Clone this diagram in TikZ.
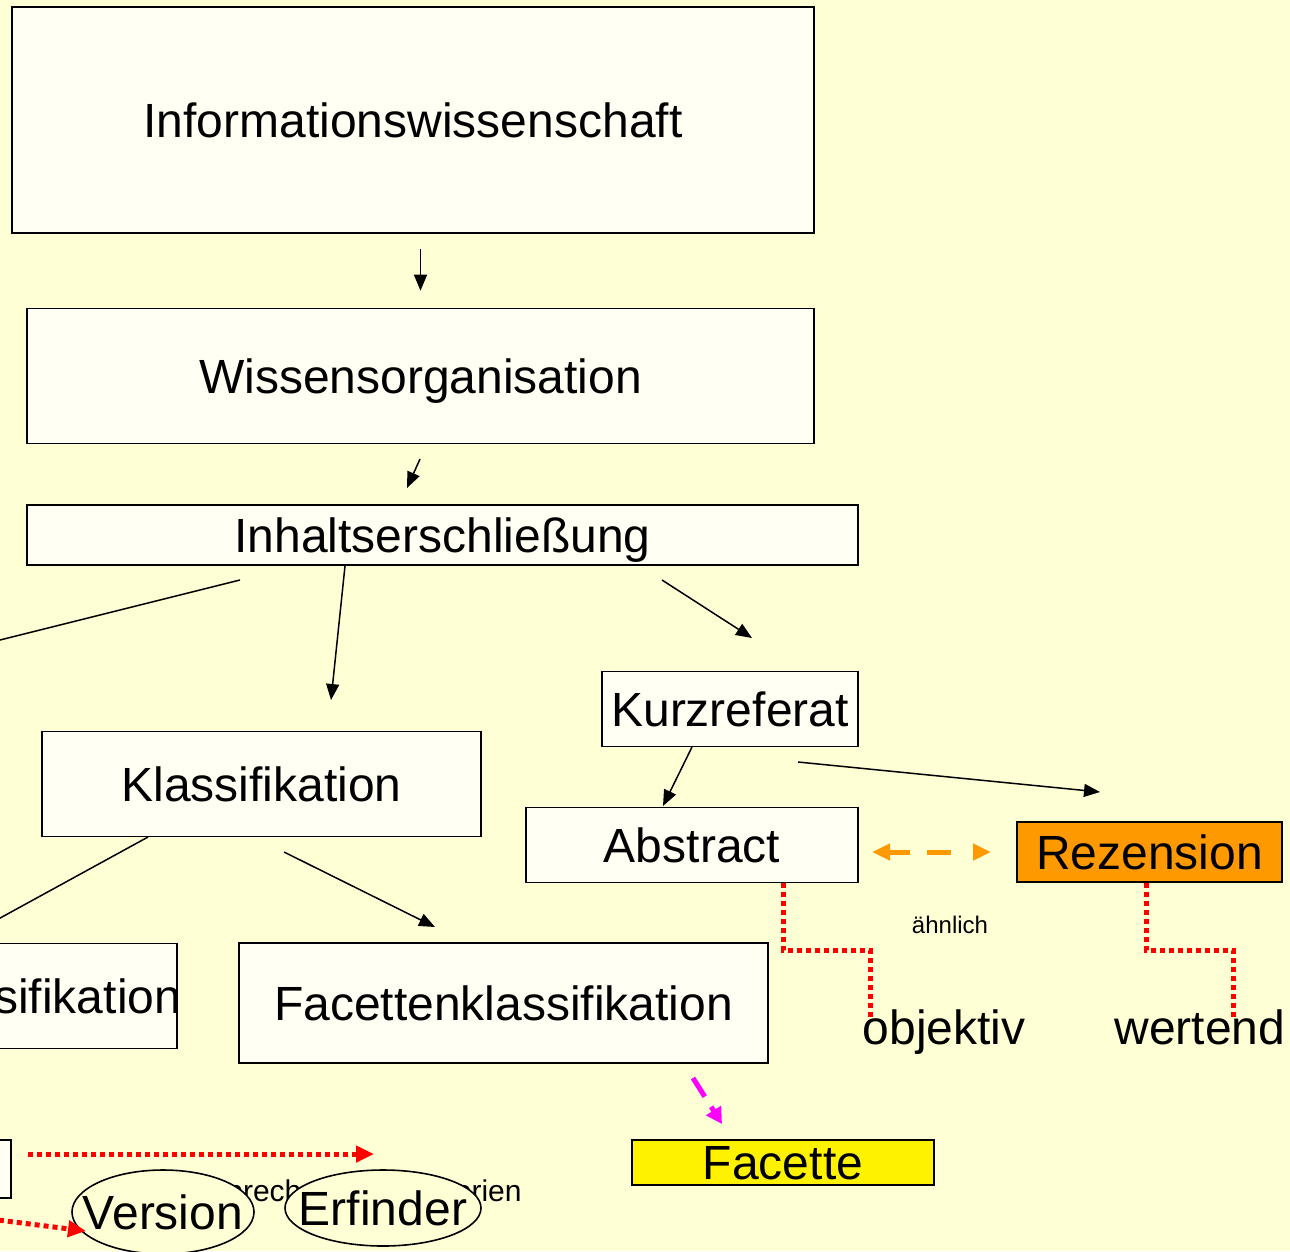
\documentclass[tikz,border=0pt]{standalone}
\usepackage{fontspec}
\setmainfont{Liberation Sans}
\usetikzlibrary{arrows.meta}
\definecolor{bgcol}{RGB}{255,255,213}
\definecolor{boxcol}{RGB}{255,255,244}
\definecolor{rzorange}{RGB}{255,153,0}
\definecolor{famag}{RGB}{255,0,255}
\tikzset{
  box/.style={draw, line width=1.6pt, fill=boxcol, inner sep=0pt, text depth=0pt,
    font=\fontsize{48}{56}\selectfont},
  arr/.style={line width=1.5pt, -{Triangle[length=16pt,width=13pt]}},
  reddot/.style={red, line width=5pt, dash pattern=on 5pt off 4pt},
  redarr/.style={reddot, -{Triangle[length=18pt,width=16pt]}},
  bigtext/.style={font=\fontsize{48}{56}\selectfont},
  oval/.style={draw, line width=1.6pt, fill=bgcol},
}
\begin{document}
\begin{tikzpicture}[x=1pt,y=-1pt]
      \useasboundingbox (0,0) rectangle (1290,1251);
      \clip (0,0) rectangle (1290,1251);
      \fill[bgcol] (0,0) rectangle (1290,1251);

      % BOXES
      \draw (413,120) node[box, minimum width=802, minimum height=226] (iw) {Informationswissenschaft};
      \draw (420.5,376) node[box, minimum width=787, minimum height=135] (wo) {Wissensorganisation};
      \draw (442.5,535) node[box, minimum width=831, minimum height=60] (ie) {Inhaltserschließung};
      \draw (730,709) node[box, minimum width=256, minimum height=75] (kr) {Kurzreferat};
      \draw (261.5,784) node[box, minimum width=439, minimum height=105] (kl) {Klassifikation};
      \draw (692,845) node[box, minimum width=332, minimum height=75] (ab) {Abstract};
      \draw (1149.5,852) node[box, fill=rzorange, minimum width=265, minimum height=60] (rz) {Rezension};
      \draw (178,996) node[box, anchor=east, inner xsep=-4pt, minimum height=105] (hk) {Hierarchische Klassifikation};
      \draw (503.5,1003) node[box, minimum width=529, minimum height=120] (fk) {Facettenklassifikation};
      \draw (783,1162.5) node[box, fill=yellow, minimum width=302, minimum height=45] (fa) {Facette};
      \draw (12,1169) node[box, anchor=east, minimum width=150, minimum height=58] (lb) {};

      % behind the ellipses
      \draw (364,1201) node[anchor=base, font=\fontsize{30}{36}\selectfont] (sk) {Sprechende Kategorien};
      \draw[oval] (163,1212) ellipse [x radius=91, y radius=42];
      \draw (163,1212) node[bigtext] (ve) {Version};
      \draw[oval] (383,1208) ellipse [x radius=98, y radius=38];
      \draw (383,1208) node[bigtext] (er) {Erfinder};

      % NOTES
      \draw (944,1044) node[anchor=base, bigtext] (ob) {objektiv};
      \draw (1200,1044) node[anchor=base, bigtext] (we) {wertend};
      \draw (950,933) node[anchor=base, font=\fontsize{24}{28}\selectfont] (ae) {ähnlich};

      % ENDS
      \coordinate (wo1) at (420,459);   \coordinate (ie0) at (407,488);
      \coordinate (ie1) at (240,580);   \coordinate (lx1) at (-40,650);
      \coordinate (ie2) at (345,566);   \coordinate (kl0) at (331,700);
      \coordinate (ie3) at (662,580);   \coordinate (kr0) at (752,638);
      \coordinate (kr1) at (692,747);   \coordinate (ab0) at (663,806);
      \coordinate (kr2) at (798,762);   \coordinate (rz0) at (1100,792);
      \coordinate (kl1) at (148,837);   \coordinate (lx2) at (-40,940);
      \coordinate (kl2) at (284,852);   \coordinate (fk0) at (435,927);
      \coordinate (ab1) at (872,852);   \coordinate (rz1) at (991,852);
      \coordinate (fk1) at (693,1078);  \coordinate (fa0) at (722,1124);
      \coordinate (lb1) at (28,1154);   \coordinate (sk0) at (374,1154);
      \coordinate (lx3) at (-10,1219);  \coordinate (ve0) at (86,1231);

      % ARROWS
      \draw[arr, shorten <=15pt, shorten >=17pt] (iw.south -| wo.north) -- (wo.north);
      \draw[arr] (wo1) -- (ie0);
      \draw[line width=1.5pt] (ie1) -- (lx1);
      \draw[arr] (ie2) -- (kl0);
      \draw[arr] (ie3) -- (kr0);
      \draw[arr] (kr1) -- (ab0);
      \draw[arr] (kr2) -- (rz0);
      \draw[line width=1.5pt] (kl1) -- (lx2);
      \draw[arr] (kl2) -- (fk0);

      \draw[rzorange, line width=5pt, dash pattern=on 21pt off 17pt on 24pt off 30pt,
        {Triangle[length=18pt,width=16pt]}-{Triangle[length=18pt,width=16pt]}] (ab1) -- (rz1);
      \draw[famag, line width=5pt, dash pattern=on 22pt off 12pt,
        -{Triangle[length=16pt,width=17pt]}] (fk1) -- (fa0);

      \draw[reddot] (ab.south -| 783,0) |- (870,950) -- (870,1020);
      \draw[reddot] (rz.south -| 1146,0) |- (1233,950) -- (1233,1018);
      \draw[redarr] (lb1) -- (sk0);
      \draw[redarr] (lx3) -- (ve0);
\end{tikzpicture}
\end{document}
